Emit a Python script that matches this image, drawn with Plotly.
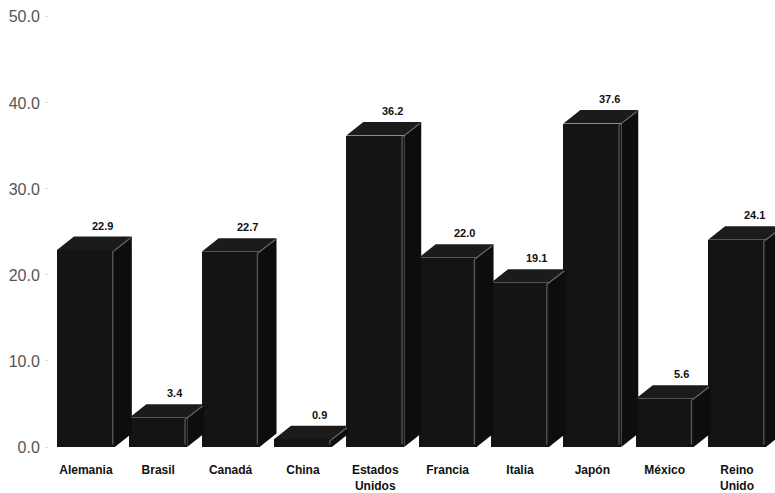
import plotly.graph_objects as go

# Data
countries = ["Alemania", "Brasil", "Canadá", "China", "Estados<br>Unidos",
             "Francia", "Italia", "Japón", "México", "Reino<br>Unido"]
values = [22.9, 3.4, 22.7, 0.9, 36.2, 22.0, 19.1, 37.6, 5.6, 24.1]
y_ticks = [0, 10, 20, 30, 40, 50]

# 3D column styling
BAR_W = 0.8      # front face width (category units)
DX = 0.235       # depth offset along x (category units)
DY = 1.57        # depth offset along y (value units)
FACE = "#141414"
SIDE = "#0d0d0d"
TOP = "#1b1b1b"
EDGE = "rgba(140,140,140,0.55)"

xs = list(range(len(countries)))

fig = go.Figure()

# front faces
fig.add_trace(go.Bar(
    x=xs, y=values, width=BAR_W,
    marker=dict(color=FACE, line=dict(width=0)),
    hoverinfo="skip", showlegend=False,
))

for i, v in zip(xs, values):
    left, right = i - BAR_W / 2, i + BAR_W / 2
    # side face
    fig.add_trace(go.Scatter(
        x=[right, right + DX, right + DX, right, right],
        y=[0, DY, v + DY, v, 0],
        mode="lines", fill="toself", fillcolor=SIDE,
        line=dict(width=0), hoverinfo="skip", showlegend=False,
    ))
    # top face
    fig.add_trace(go.Scatter(
        x=[left, left + DX, right + DX, right, left],
        y=[v, v + DY, v + DY, v, v],
        mode="lines", fill="toself", fillcolor=TOP,
        line=dict(width=0), hoverinfo="skip", showlegend=False,
    ))
    # light edge between front and side
    fig.add_trace(go.Scatter(
        x=[right - 0.03, right - 0.03, right + DX - 0.02],
        y=[0.3, v - 0.2, v + DY - 0.2],
        mode="lines", line=dict(color=EDGE, width=1.3),
        hoverinfo="skip", showlegend=False,
    ))
    # value label
    fig.add_annotation(
        x=i + DX, y=v + DY, text=f"{v:.1f}",
        showarrow=False, yanchor="bottom", yshift=3,
        font=dict(family="Liberation Sans", size=11, color="#111111", weight="bold"),
    )

fig.update_layout(
    width=775, height=493,
    margin=dict(l=49, r=0, t=10, b=46),
    paper_bgcolor="white", plot_bgcolor="white",
    bargap=0, showlegend=False,
    xaxis=dict(
        range=[-0.51, 9.525],
        tickmode="array", tickvals=xs, ticktext=countries,
        showgrid=False, zeroline=False, showline=False, ticks="",
        tickfont=dict(family="Liberation Sans", size=12, color="#111111", weight="bold"),
        ticklabelstandoff=14,
    ),
    yaxis=dict(
        range=[0, 50.8],
        tickmode="array", tickvals=y_ticks,
        ticktext=[f"{t:.1f}" for t in y_ticks],
        showgrid=False, zeroline=False, showline=False,
        ticks="outside", ticklen=3, tickcolor="#dddddd",
        tickfont=dict(family="Liberation Sans", size=16, color="#555555"),
        ticklabelstandoff=2,
    ),
)

fig.write_html("out.html")
